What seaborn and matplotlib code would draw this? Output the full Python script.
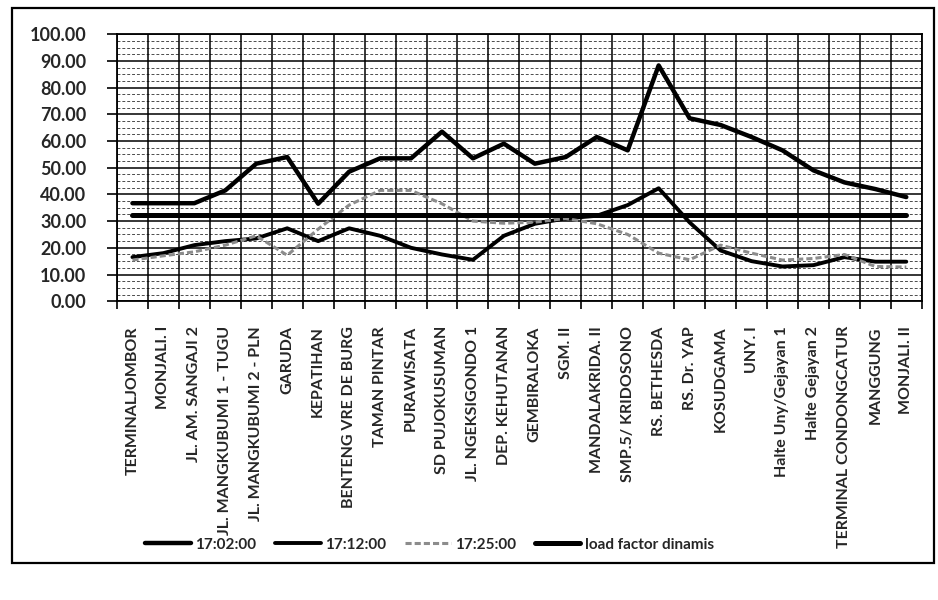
import seaborn as sns
import numpy as np
import pandas as pd
import matplotlib.pyplot as plt
from matplotlib.ticker import MultipleLocator, FormatStrFormatter, FixedLocator
from matplotlib.patches import Rectangle

stops = [
    "TERMINALJOMBOR", "MONJALI. I", "JL. AM. SANGAJI 2", "JL. MANGKUBUMI 1 - TUGU",
    "JL. MANGKUBUMI 2 - PLN", "GARUDA", "KEPATIHAN", "BENTENG VRE DE BURG",
    "TAMAN PINTAR", "PURAWISATA", "SD PUJOKUSUMAN", "JL. NGEKSIGONDO 1",
    "DEP. KEHUTANAN", "GEMBIRALOKA", "SGM. II", "MANDALAKRIDA. II",
    "SMP.5/ KRIDOSONO", "RS. BETHESDA", "RS. Dr. YAP", "KOSUDGAMA", "UNY. I",
    "Halte Uny/Gejayan 1", "Halte Gejayan 2", "TERMINAL CONDONGCATUR",
    "MANGGUNG", "MONJALI. II",
]

t_1702 = [36.7, 36.7, 36.7, 41.5, 51.5, 54.0, 36.5, 48.5, 53.5, 53.5, 63.5, 53.5, 59.0,
          51.5, 54.0, 61.5, 56.5, 88.3, 68.5, 66.0, 61.5, 56.5, 49.0, 44.5, 42.0, 39.0]
t_1712 = [16.5, 18.0, 21.0, 22.5, 23.5, 27.3, 22.5, 27.3, 24.5, 20.0, 17.5, 15.5, 24.5,
          29.0, 31.0, 32.0, 36.0, 42.3, 29.5, 19.0, 15.0, 13.0, 13.5, 16.5, 14.8, 14.8]
t_1725 = [15.4, 17.0, 18.5, 21.0, 24.5, 17.2, 27.0, 36.0, 41.5, 41.5, 36.5, 30.0, 29.2,
          29.6, 31.0, 29.0, 25.0, 18.0, 15.5, 21.0, 18.0, 15.4, 16.0, 17.5, 13.0, 12.8]
load_factor = [32.4] * len(stops)

series = {
    "17:02:00": t_1702,
    "17:12:00": t_1712,
    "17:25:00": t_1725,
    "load factor dinamis": load_factor,
}
styles = {
    "17:02:00": dict(color="black", lw=3.2, ls="-"),
    "17:12:00": dict(color="black", lw=2.8, ls="-"),
    "17:25:00": dict(color="#8c8c8c", lw=2.2, ls=(0, (2, 1))),
    "load factor dinamis": dict(color="black", lw=3.6, ls="-"),
}

df = pd.concat(
    [pd.DataFrame({"halte": stops, "nilai": v, "seri": k}) for k, v in series.items()],
    ignore_index=True,
)

sns.set_style("white")
plt.rcParams["font.family"] = ["Lato", "DejaVu Sans"]

fig = plt.figure(figsize=(9.38, 6), dpi=100)
ax = fig.add_axes([0.1247, 0.498, 0.858, 0.445])

for name, st in styles.items():
    sub = df[df["seri"] == name]
    sns.lineplot(data=sub, x="halte", y="nilai", ax=ax, sort=False, label=name,
                 color=st["color"], linewidth=st["lw"], linestyle=st["ls"])

ax.set_xlim(-0.5, len(stops) - 0.5)
ax.set_ylim(0, 100)
ax.set_xlabel("")
ax.set_ylabel("")

ax.yaxis.set_major_locator(MultipleLocator(10))
ax.yaxis.set_minor_locator(MultipleLocator(2.5))
ax.yaxis.set_major_formatter(FormatStrFormatter("%.2f"))
ax.xaxis.set_minor_locator(FixedLocator(np.arange(-0.5, len(stops), 1.0)))

ax.grid(True, which="major", axis="y", color="black", lw=1.1)
ax.grid(True, which="minor", axis="x", color="black", lw=1.1)
ax.grid(True, which="minor", axis="y", color="black", lw=0.7, ls=(0, (3, 2)), alpha=0.7)
ax.set_axisbelow(True)

ax.tick_params(axis="x", which="major", length=0, pad=18)
ax.tick_params(axis="x", which="minor", length=6, width=1.2, direction="out", color="black")
ax.tick_params(axis="y", which="major", length=7, width=1.2, direction="out", color="black", pad=15)
ax.tick_params(axis="y", which="minor", length=0)
ax.xaxis.set_ticks_position("bottom")
ax.yaxis.set_ticks_position("left")

plt.setp(ax.get_xticklabels(), rotation=90, fontsize=11.5, fontweight="bold")
plt.setp(ax.get_yticklabels(), fontsize=13, fontweight="bold")

for sp in ax.spines.values():
    sp.set_color("black")
    sp.set_linewidth(1.3)

ax.get_legend().remove()
handles, labels = ax.get_legend_handles_labels()
fig.legend(handles, labels, loc="center", bbox_to_anchor=(0.458, 0.092), ncol=4,
           frameon=False, handlelength=3, columnspacing=1.2, handletextpad=0.3,
           prop=dict(family=["Lato", "DejaVu Sans"], size=11, weight="bold"))

fig.add_artist(Rectangle((0.013, 0.062), 0.983, 0.925, transform=fig.transFigure,
                         fill=False, lw=1.6, color="black"))

fig.savefig("out.png", dpi=100)
